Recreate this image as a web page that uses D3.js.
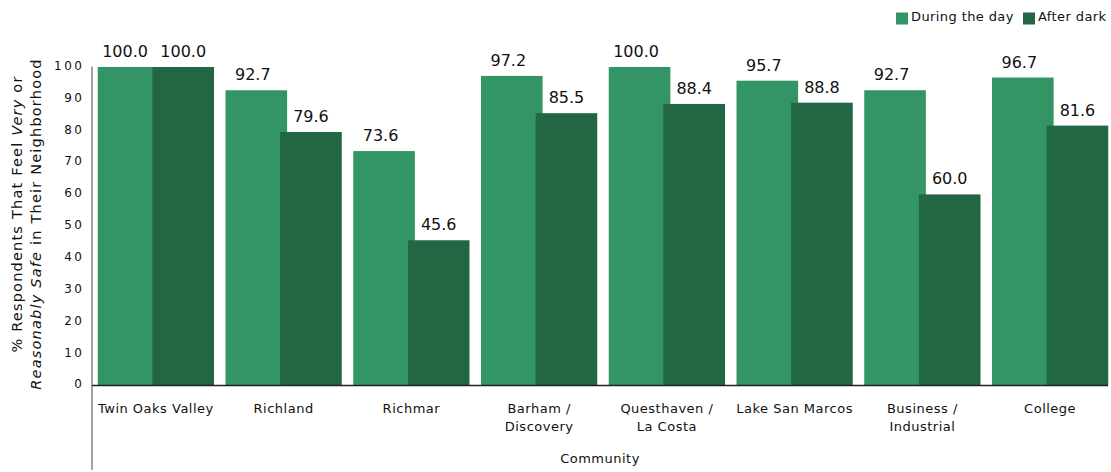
<!DOCTYPE html>
<html>
<head>
<meta charset="utf-8">
<script src="https://cdn.jsdelivr.net/npm/d3@7"></script>
<style>
  html, body { margin: 0; padding: 0; background: #fff; }
  svg { display: block; font-family: "DejaVu Sans", sans-serif; }
</style>
</head>
<body>
<svg id="chart" width="1111" height="472"></svg>
<script>
// Share of respondents feeling very / reasonably safe, by community
const categories = [
  "Twin Oaks Valley", "Richland", "Richmar", "Barham / Discovery",
  "Questhaven / La Costa", "Lake San Marcos", "Business / Industrial", "College"
];
const seriesNames = ["During the day", "After dark"];
const duringDay = [100.0, 92.7, 73.6, 97.2, 100.0, 95.7, 92.7, 96.7];
const afterDark = [100.0, 79.6, 45.6, 85.5, 88.4, 88.8, 60.0, 81.6];
const yTicks = [0, 10, 20, 30, 40, 50, 60, 70, 80, 90, 100];

const colors = ["#339565", "#236644"];

const svg = d3.select("#chart");

const x = d3.scaleBand()
  .domain(categories)
  .range([92, 1114])
  .paddingInner(0.09)
  .paddingOuter(0.045);

const y = d3.scaleLinear().domain([0, 100]).range([385.5, 67]);

const bw = x.bandwidth();
const barW = bw * 0.53;          // each bar, the second overlaps the first
const darkOff = bw - barW;

const rows = categories.map((c, i) => ({ c, day: duringDay[i], dark: afterDark[i] }));

// bars: day first, after-dark drawn over it
const g = svg.append("g");
g.selectAll("rect.day").data(rows).join("rect")
  .attr("class", "day")
  .attr("x", d => x(d.c))
  .attr("width", barW)
  .attr("y", d => y(d.day))
  .attr("height", d => y(0) - y(d.day))
  .attr("fill", colors[0]);

g.selectAll("rect.dark").data(rows).join("rect")
  .attr("class", "dark")
  .attr("x", d => x(d.c) + darkOff)
  .attr("width", barW)
  .attr("y", d => y(d.dark))
  .attr("height", d => y(0) - y(d.dark))
  .attr("fill", colors[1]);

// value labels centred over the visible part of each bar
g.selectAll("text.vday").data(rows).join("text")
  .attr("x", d => x(d.c) + darkOff / 2)
  .attr("y", d => y(d.day) - 10)
  .attr("text-anchor", "middle")
  .attr("font-size", 16)
  .attr("fill", "#111")
  .text(d => d.day.toFixed(1));

g.selectAll("text.vdark").data(rows).join("text")
  .attr("x", d => x(d.c) + darkOff + barW / 2)
  .attr("y", d => y(d.dark) - 10)
  .attr("text-anchor", "middle")
  .attr("font-size", 16)
  .attr("fill", "#111")
  .text(d => d.dark.toFixed(1));

// y axis
const yAxis = svg.append("g")
  .attr("transform", "translate(92,0)")
  .call(d3.axisLeft(y).tickValues(yTicks).tickSize(0).tickPadding(7.5).tickFormat(d3.format("d")));
yAxis.select(".domain").remove();
yAxis.selectAll("text")
  .attr("font-family", "DejaVu Sans, sans-serif")
  .attr("font-size", 12)
  .attr("letter-spacing", "2.5px")
  .attr("dy", "0.2em")
  .attr("fill", "#111");

svg.append("line")
  .attr("x1", 92).attr("x2", 92)
  .attr("y1", 66.5).attr("y2", 470)
  .attr("stroke", "#666").attr("stroke-width", 1.2);

// baseline
svg.append("line")
  .attr("x1", 92).attr("x2", 1108)
  .attr("y1", y(0)).attr("y2", y(0))
  .attr("stroke", "#222").attr("stroke-width", 1.5);

// category labels
const xl = svg.append("g").selectAll("text").data(categories).join("text")
  .attr("text-anchor", "middle")
  .attr("font-size", 13)
  .attr("letter-spacing", "0.5px")
  .attr("fill", "#111");
xl.each(function (c) {
  const parts = c.includes(" / ") ? [c.split(" / ")[0] + " /", c.split(" / ")[1]] : [c];
  const t = d3.select(this);
  parts.forEach((p, k) => {
    t.append("tspan")
      .attr("x", x(c) + bw / 2)
      .attr("y", 413 + k * 18)
      .text(p);
  });
});

// x title
svg.append("text")
  .attr("x", 600).attr("y", 463)
  .attr("text-anchor", "middle")
  .attr("font-size", 13)
  .attr("letter-spacing", "0.5px")
  .attr("fill", "#111")
  .text("Community");

// y title, two rotated lines with italic words
const t1 = svg.append("text")
  .attr("transform", "translate(22,214) rotate(-90)")
  .attr("text-anchor", "middle")
  .attr("font-size", 14.5)
  .attr("letter-spacing", "1.2px")
  .attr("fill", "#111");
t1.append("tspan").text("% Respondents That Feel ");
t1.append("tspan").attr("font-style", "italic").text("Very");
t1.append("tspan").text(" or");

const t2 = svg.append("text")
  .attr("transform", "translate(41,224) rotate(-90)")
  .attr("text-anchor", "middle")
  .attr("font-size", 14.5)
  .attr("letter-spacing", "1.2px")
  .attr("fill", "#111");
t2.append("tspan").attr("font-style", "italic").text("Reasonably Safe");
t2.append("tspan").text(" in Their Neighborhood");

// legend
const legendX = [896, 1023];
const lg = svg.append("g").selectAll("g").data(seriesNames).join("g");
lg.append("rect")
  .attr("x", (d, i) => legendX[i])
  .attr("y", 12.5)
  .attr("width", 12).attr("height", 12)
  .attr("fill", (d, i) => colors[i]);
lg.append("text")
  .attr("x", (d, i) => legendX[i] + 15)
  .attr("y", 21)
  .attr("font-size", 13)
  .attr("letter-spacing", "0.4px")
  .attr("fill", "#111")
  .text(d => d);
</script>
</body>
</html>
